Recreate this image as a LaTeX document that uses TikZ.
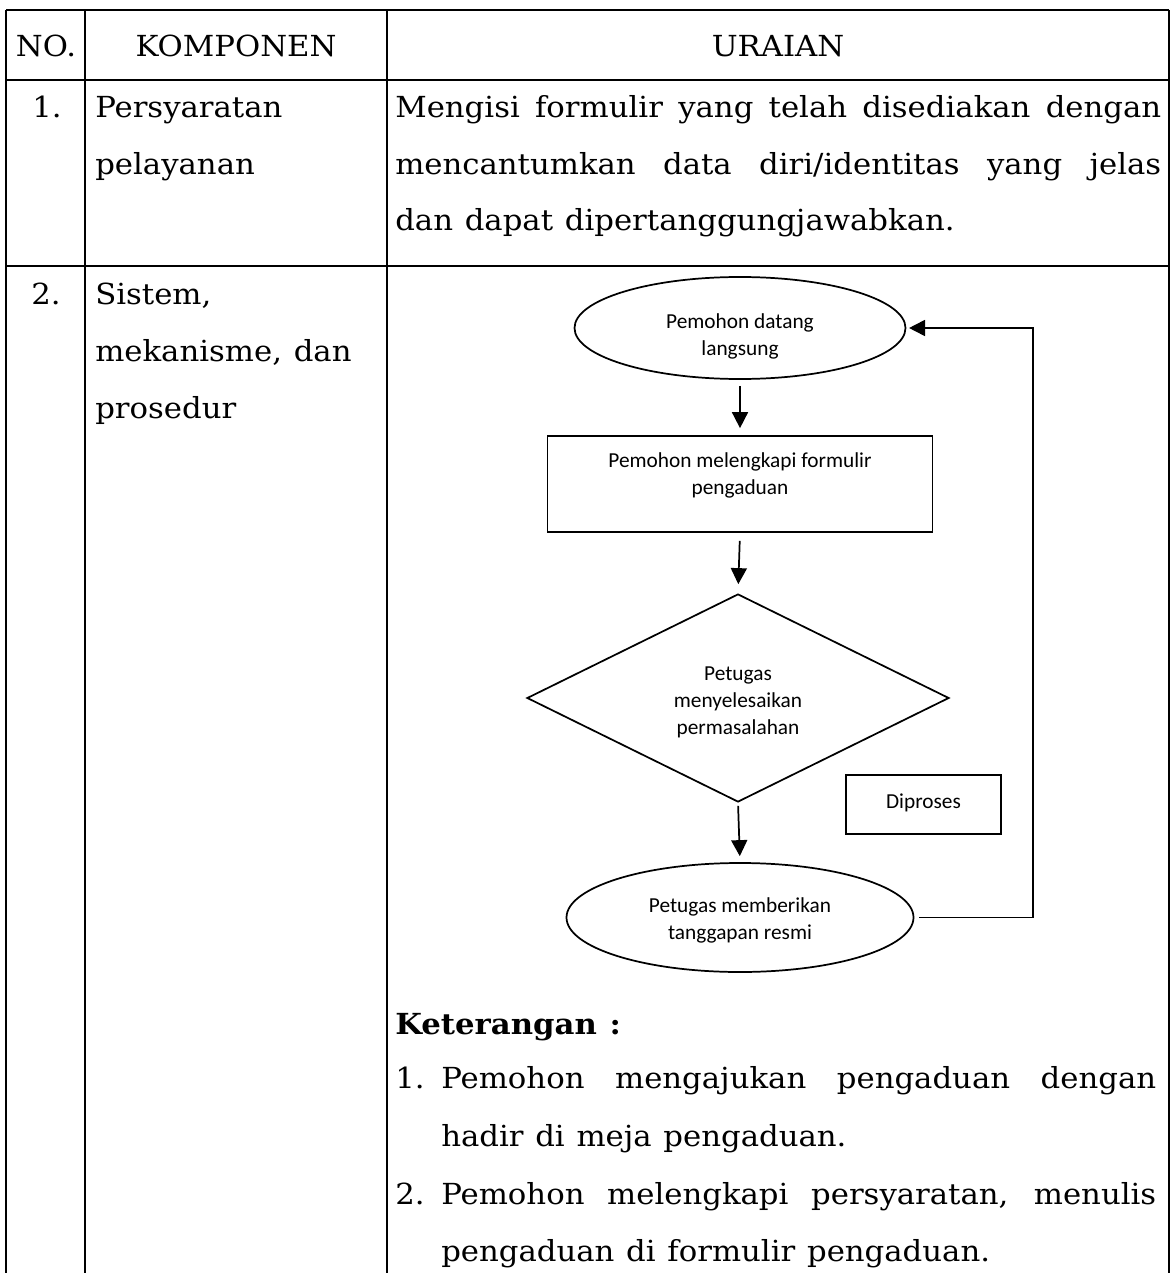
\documentclass[tikz,border=0pt]{standalone}
\usepackage{fontspec}
\setmainfont{DejaVu Serif}[FakeStretch=1.06,WordSpace=1.2]
\newfontfamily\flowfont{Carlito}
\usetikzlibrary{shapes.geometric,arrows.meta}
\begin{document}
\begin{tikzpicture}[x=0.75pt,y=-0.75pt,
  tbl/.style={line width=1.8pt},
  txt/.style={anchor=base west,inner sep=0pt,font=\fontsize{21.75pt}{42.75pt}\selectfont},
  ctxt/.style={txt,anchor=base},
  flow/.style={draw,line width=1.3pt,font=\flowfont\fontsize{16pt}{20.25pt}\selectfont,align=center,inner sep=2pt},
  term/.style={flow,ellipse},
  proc/.style={flow,rectangle},
  dec/.style={flow,diamond,aspect=2},
  arr/.style={line width=1.3pt,-{Triangle[length=12pt,width=12pt]}}
]
\useasboundingbox (0,0) rectangle (1173,1273);
% table grid
\draw[tbl] (6,10) -- (1169,10);
\draw[tbl] (6,80) -- (1169,80);
\draw[tbl] (6,266) -- (1169,266);
\draw[tbl] (6,10) -- (6,1273);
\draw[tbl] (85,10) -- (85,1273);
\draw[tbl] (387,10) -- (387,1273);
\draw[tbl] (1169,10) -- (1169,1273);
% header
\node[ctxt] (hno) at (46,57) {NO.};
\node[ctxt] (hkomp) at (236,57) {KOMPONEN};
\node[ctxt] (hur) at (778,57) {URAIAN};
% row 1
\node[ctxt] (n1) at (47,118) {1.};
\node[txt] (k1a) at (95,118) {Persyaratan};
\node[txt] (k1b) at (95,175) {pelayanan};
\node[txt] (u1a) at (395,118) {\makebox[574.5pt][s]{Mengisi formulir yang telah disediakan dengan}};
\node[txt] (u1b) at (395,175) {\makebox[574.5pt][s]{mencantumkan data diri/identitas yang jelas}};
\node[txt] (u1c) at (395,231) {dan dapat dipertanggungjawabkan.};
% row 2
\node[ctxt] (n2) at (46,304) {2.};
\node[txt] (k2a) at (95,304) {Sistem,};
\node[txt] (k2b) at (95,361) {mekanisme, dan};
\node[txt] (k2c) at (95,418) {prosedur};
% flowchart
\node[term,minimum width=248.25pt,minimum height=76.5pt] (e1) at (740,328) {\rule{0pt}{23pt}Pemohon datang\\langsung};
\node[proc,minimum width=288.75pt,minimum height=72pt,text depth=15.75pt] (r1) at (740,484) {Pemohon melengkapi formulir\\pengaduan};
\node[dec,minimum width=316.5pt,minimum height=156pt,inner sep=0pt] (d1) at (738,698) {\rule{0pt}{17pt}Petugas\\menyelesaikan\\permasalahan};
\node[proc,minimum width=116.25pt,minimum height=44.25pt,text depth=5pt] (r2) at (923.5,804.5) {Diproses};
\node[term,minimum width=260.25pt,minimum height=81.75pt] (e2) at (740,917.5) {\rule{0pt}{15pt}Petugas memberikan\\tanggapan resmi};
\coordinate (fb) at (1033,600);
\draw[arr,shorten <=4.5pt,shorten >=5.25pt] (e1.south) -- (r1.north);
\draw[arr,shorten <=6pt,shorten >=6.75pt] (r1.south) -- (d1.north);
\draw[arr,shorten <=2.25pt,shorten >=4.5pt] (d1.south) -- (e2.north);
\draw[arr,shorten <=3.75pt,shorten >=2pt] (e2.east) -- (e2.east -| fb) |- (e1.east);
% keterangan
\node[txt,font=\fontsize{21.75pt}{42.75pt}\selectfont\bfseries] (ket) at (395,1034) {Keterangan :};
\node[txt] (l1n) at (395,1088) {1.};
\node[txt] (l1a) at (441,1088) {\makebox[536.25pt][s]{Pemohon mengajukan pengaduan dengan}};
\node[txt] (l1b) at (441,1146) {hadir di meja pengaduan.};
\node[txt] (l2n) at (395,1204) {2.};
\node[txt] (l2a) at (441,1204) {\makebox[536.25pt][s]{Pemohon melengkapi persyaratan, menulis}};
\node[txt] (l2b) at (441,1261) {pengaduan di formulir pengaduan.};
\end{tikzpicture}
\end{document}
